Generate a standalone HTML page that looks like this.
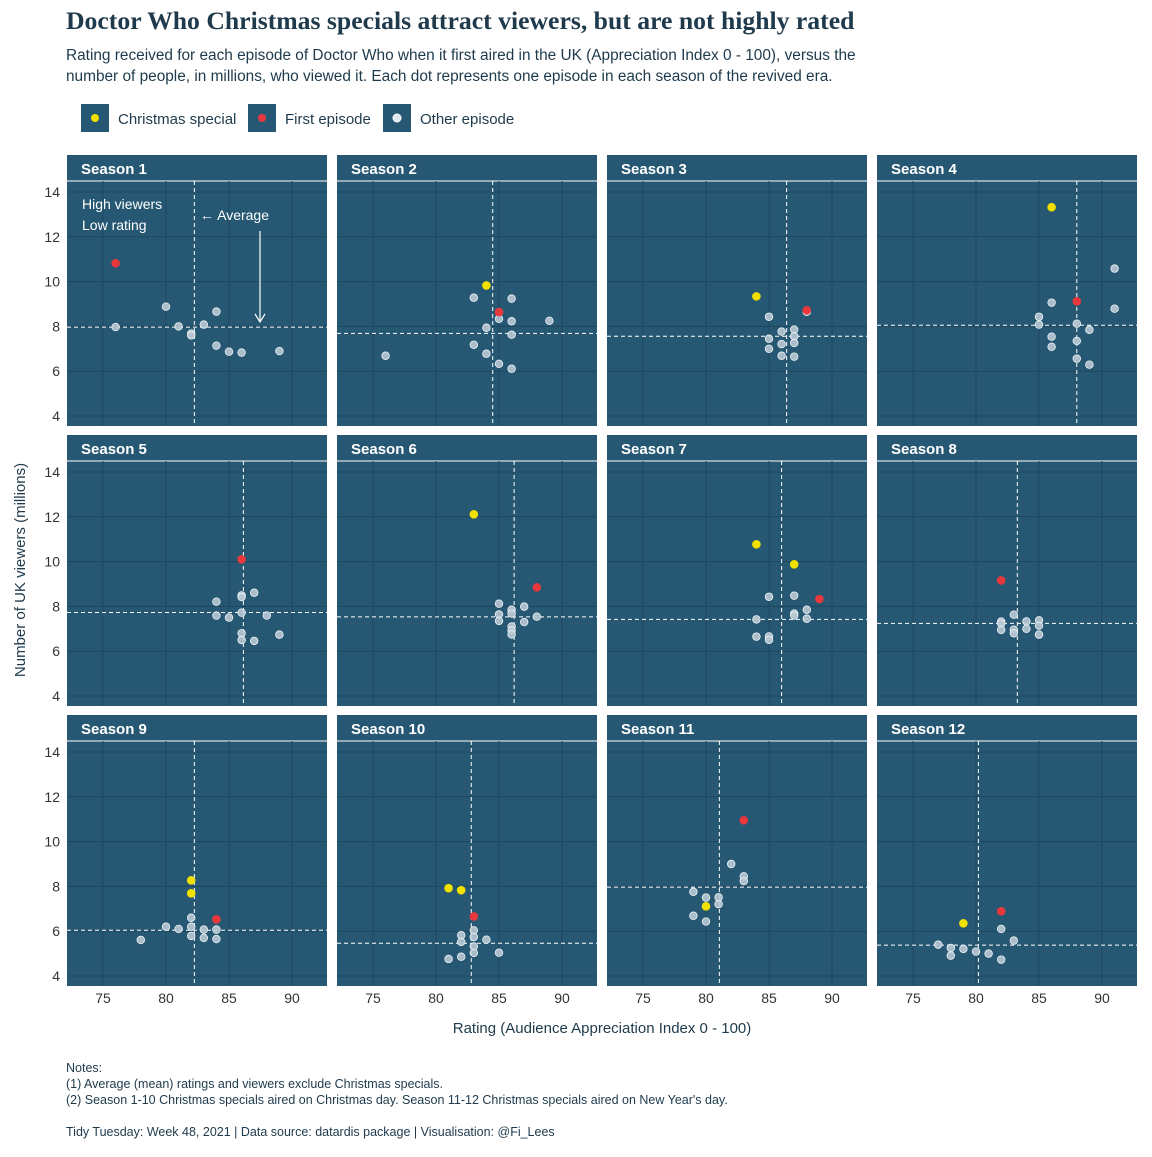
<!DOCTYPE html>
<html><head><meta charset="utf-8">
<style>
body{margin:0;background:#fff;}
svg text{font-family:"Liberation Sans",sans-serif;}
</style></head>
<body>
<svg id="chart" width="1152" height="1152" viewBox="0 0 1152 1152" xmlns="http://www.w3.org/2000/svg">
<rect width="1152" height="1152" fill="#fff"/>
<text x="66" y="29" style="font-family:'Liberation Serif',serif" font-size="25.7" font-weight="bold" fill="#1e3a4c">Doctor Who Christmas specials attract viewers, but are not highly rated</text>
<text x="66" y="60" font-size="15.4" fill="#1e3a4c">Rating received for each episode of Doctor Who when it first aired in the UK (Appreciation Index 0 - 100), versus the</text>
<text x="66" y="81" font-size="15.4" fill="#1e3a4c">number of people, in millions, who viewed it. Each dot represents one episode in each season of the revived era.</text>
<g>
<g><rect x="81" y="104" width="28" height="28" fill="#265873"/><circle cx="95" cy="118" r="4" fill="#f2e000"/><text x="118" y="124" font-size="15" fill="#1e3a4c">Christmas special</text></g>
<g><rect x="248" y="104" width="28" height="28" fill="#265873"/><circle cx="262" cy="118" r="4" fill="#e8383d"/><text x="285" y="124" font-size="15" fill="#1e3a4c">First episode</text></g>
<g><rect x="383" y="104" width="28" height="28" fill="#265873"/><circle cx="397" cy="118" r="4" fill="#e0e8ee" stroke="#fff" stroke-width="1"/><text x="420" y="124" font-size="15" fill="#1e3a4c">Other episode</text></g>
</g>
<g id="panels"></g>
<text transform="translate(25,570) rotate(-90)" text-anchor="middle" font-size="15" fill="#1e3a4c">Number of UK viewers (millions)</text>
<text x="602" y="1033" text-anchor="middle" font-size="15" fill="#1e3a4c">Rating (Audience Appreciation Index 0 - 100)</text>
<g font-size="12.5" fill="#1e3a4c">
<text x="66" y="1072">Notes:</text>
<text x="66" y="1088">(1) Average (mean) ratings and viewers exclude Christmas specials.</text>
<text x="66" y="1104">(2) Season 1-10 Christmas specials aired on Christmas day. Season 11-12 Christmas specials aired on New Year's day.</text>
<text x="66" y="1136">Tidy Tuesday: Week 48, 2021 | Data source: datardis package | Visualisation: @Fi_Lees</text>
</g>
</svg>
<script>
// type codes: c = christmas, f = first, o = other
const seasonRatings = [
 [76,76,80,81,82,82,83,84,84,85,86,89],
 [84,85,76,83,86,85,86,84,86,89,83,84,85,86],
 [84,88,88,85,86,87,87,87,85,86,85,86,87],
 [86,88,91,91,86,85,85,88,89,86,88,86,88,89],
 [86,86,86,87,84,84,85,86,88,86,86,87,89],
 [83,88,85,86,86,87,85,85,88,87,86,86,86],
 [84,87,89,85,87,88,87,87,88,84,84,85,85],
 [82,83,82,82,82,83,83,84,84,85,85,85],
 [82,82,84,82,82,82,83,83,84,84,80,81,78],
 [81,82,83,82,82,83,83,83,83,84,85,81,82],
 [80,83,82,83,83,79,80,81,81,79,80],
 [79,82,82,83,77,78,78,79,80,81,82]
];
const seasonViewers = [
 [10.82,7.97,8.88,8.0,7.68,7.6,8.08,8.66,7.14,6.87,6.83,6.9],
 [9.83,8.64,6.69,9.28,9.24,8.34,8.23,7.94,7.63,8.25,7.18,6.78,6.33,6.11],
 [9.34,8.72,8.65,8.43,7.77,7.86,7.56,7.26,7.45,7.21,7.0,6.69,6.65],
 [13.32,9.12,10.58,8.79,9.06,8.43,8.08,8.12,7.85,7.54,7.35,7.09,6.56,6.29],
 [10.1,8.49,8.42,8.61,8.21,7.59,7.5,7.72,7.59,6.8,6.5,6.46,6.74],
 [12.11,8.85,8.12,7.85,7.68,7.99,7.64,7.35,7.54,7.3,7.1,6.93,6.75],
 [10.77,9.88,8.33,8.43,8.48,7.85,7.68,7.59,7.45,7.42,6.65,6.66,6.51],
 [9.16,7.63,7.32,7.23,6.95,6.96,6.8,7.33,7.0,7.38,7.14,6.74],
 [8.27,7.69,6.53,6.6,6.2,5.79,6.07,5.7,6.07,5.65,6.2,6.1,5.61],
 [7.92,7.83,6.66,5.82,5.52,6.04,5.74,5.32,5.03,5.62,5.04,4.76,4.86],
 [7.11,10.95,9.0,8.45,8.24,7.76,7.5,7.51,7.21,6.69,6.43],
 [6.35,6.89,6.1,5.58,5.4,5.25,4.91,5.21,5.09,5.0,4.73]
];
const seasonTypes = [
 "foooooooooooo",
 "cfoooooooooooo",
 "cfooooooooooo",
 "cfoooooooooooo",
 "foooooooooooo",
 "cfooooooooooo",
 "ccfoooooooooo",
 "fooooooooooo",
 "ccfoooooooooo",
 "ccfoooooooooo",
 "cfooooooooo",
 "cfooooooooo"
];
const avgRating = [82.25,84.5,86.4,88.0,86.14,86.2,86.0,83.28,82.25,82.8,81.06,80.19];
const avgViewers = [7.97,7.69,7.56,8.05,7.73,7.53,7.42,7.24,6.04,5.46,7.97,5.38];
const xTicks = [75,80,85,90];
const yTicks = [4,6,8,10,12,14];

const NS="http://www.w3.org/2000/svg";
const root=document.getElementById('panels');
function mk(tag,attrs,parent){const e=document.createElementNS(NS,tag);for(const k in attrs)e.setAttribute(k,attrs[k]);parent.appendChild(e);return e;}
const colX=[67,337,607,877], rowY=[155,435,715];
const PW=260, PH=245, STRIP=26;
function xs(c,r){return colX[c]+36+(r-75)*12.6;}
function ys(rw,v){return rowY[rw]+STRIP+11+(14-v)*22.4;}
const fill={c:"#f2e000",f:"#e8383d",o:"#b9c9d4"};
for(let s=0;s<12;s++){
  const c=s%4, rw=Math.floor(s/4);
  const g=mk('g',{},root);
  
  
  const strip=mk('rect',{x:colX[c],y:rowY[rw],width:PW,height:STRIP,fill:"#265873"},g);
  
  
  const st=mk('text',{x:colX[c]+14,y:rowY[rw]+19,"font-size":15,"font-weight":"bold",fill:"#fff"},g);
  st.textContent='Season '+(s+1);
  
  
  const top=rowY[rw]+STRIP;
  const bg=mk('rect',{x:colX[c],y:top,width:PW,height:PH,fill:"#265873"},g);
  
  
  mk('line',{x1:colX[c],x2:colX[c]+PW,y1:top,y2:top,stroke:"#fff","stroke-width":1},g);
  for(const t of xTicks){const l=mk('line',{x1:xs(c,t),x2:xs(c,t),y1:top,y2:top+PH,stroke:"#1d4660","stroke-width":1},g);}
  for(const t of yTicks){const l=mk('line',{x1:colX[c],x2:colX[c]+PW,y1:ys(rw,t),y2:ys(rw,t),stroke:"#1d4660","stroke-width":1},g);}
  const ax=mk('line',{x1:xs(c,avgRating[s]),x2:xs(c,avgRating[s]),y1:top,y2:top+PH,stroke:"#fff","stroke-width":1,"stroke-dasharray":"4,3"},g);
  
  
  const ay=mk('line',{x1:colX[c],x2:colX[c]+PW,y1:ys(rw,avgViewers[s]),y2:ys(rw,avgViewers[s]),stroke:"#fff","stroke-width":1,"stroke-dasharray":"4,3"},g);
  
  
  const R=seasonRatings[s],V=seasonViewers[s],T=seasonTypes[s];
  const order=[];for(let i=0;i<R.length;i++)if((T[i]||'o')==='o')order.push(i);for(let i=0;i<R.length;i++)if((T[i]||'o')!=='o')order.push(i);
  for(const i of order){
    const t=T[i]||'o';
    const d=mk('circle',{cx:xs(c,R[i]),cy:ys(rw,V[i]),r:t==='o'?3.8:4.3,fill:fill[t],stroke:t==='o'?"#eef3f6":"none","stroke-width":0.8,"fill-opacity":t==='o'?0.9:1},g);
    
    
  }
  if(rw===2){for(const t of xTicks){const tx=mk('text',{x:xs(c,t),y:1003,"text-anchor":"middle","font-size":14,fill:"#333"},root);tx.textContent=t;}}
  if(c===0){for(const t of yTicks){const tx=mk('text',{x:60,y:ys(rw,t)+5,"text-anchor":"end","font-size":14,fill:"#333"},root);tx.textContent=t;}}
}
const an=mk('g',{},root);


let t1=mk('text',{x:82,y:209,"font-size":14,fill:"#fff"},an);t1.textContent='High viewers';
let t2=mk('text',{x:82,y:230,"font-size":14,fill:"#fff"},an);t2.textContent='Low rating';
let t3=mk('text',{x:200,y:220,"font-size":14,fill:"#fff"},an);t3.textContent='\u2190 Average';
mk('line',{x1:260,x2:260,y1:231,y2:321,stroke:"#fff","stroke-width":1.2},an);
mk('path',{d:"M255,314 L260,322 L265,314",stroke:"#fff","stroke-width":1.2,fill:"none"},an);
</script>
</body></html>
